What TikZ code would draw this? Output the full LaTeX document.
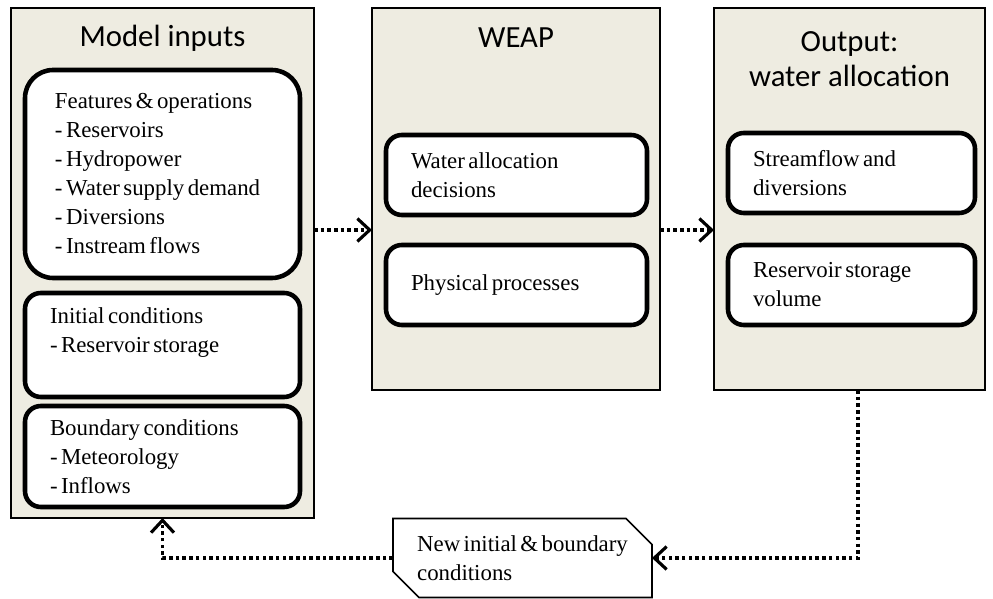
\documentclass[tikz,border=0pt]{standalone}
\usepackage{fontspec}
\setmainfont{Liberation Serif}[WordSpace=0.6]
\newfontfamily\headfont{Carlito}
\usetikzlibrary{arrows.meta, shapes.misc}
\definecolor{panelfill}{HTML}{EEECE1}

\begin{document}
\begin{tikzpicture}[
    every node/.style={font=\fontsize{13}{16.5}\selectfont},
    panel/.style={rectangle, draw=black, fill=panelfill, line width=0.9pt,
                  inner sep=0pt, outer sep=0pt},
    head/.style={font=\headfont\fontsize{17.5}{20}\selectfont, align=center},
    item/.style={rectangle, rounded corners=9pt, draw=black, fill=white,
                 line width=2.6pt, align=flush left, inner xsep=0.5cm, inner ysep=0pt},
    note/.style={chamfered rectangle, chamfered rectangle corners={north east, south west},
                 chamfered rectangle xsep=0.28cm, chamfered rectangle ysep=0.24cm,
                 draw=black, fill=white, line width=0.9pt,
                 align=left, inner xsep=0.2cm, inner ysep=0pt, outer sep=0pt},
    arr/.style={-{Straight Barb[length=7pt, width=13pt, line width=1.8pt]},
                line width=2pt, dash pattern=on 2pt off 1.8pt},
]
\useasboundingbox (0,0) rectangle (19.86,11.98);

% ================================================================ panels
\node[panel, minimum width=6.06cm, minimum height=10.20cm] (inp)  at (3.25, 6.72) {};
\node[panel, minimum width=5.76cm, minimum height=7.64cm]  (weap) at (10.32, 8.00) {};
\node[panel, minimum width=5.42cm, minimum height=7.64cm]  (out)  at (16.99, 8.00) {};

\node[head] (inpt)  at (3.25, 11.22) {Model inputs};
\node[head] (weapt) at (10.32, 11.22) {WEAP};
\node[head] (outt)  at (16.99, 10.79) {Output:\\water allocation};

% ================================================================ model inputs
\node[item, rounded corners=16pt, inner xsep=0.6cm, text width=4.3cm, minimum height=4.16cm]
    (feat) at (3.25, 8.50)
    {Features \& operations\\- Reservoirs\\- Hydropower\\- Water supply demand\\- Diversions\\- Instream flows};
\node[item, text width=4.5cm, minimum height=2.08cm] (init) at (3.25, 5.08)
    {Initial conditions\\- Reservoir storage\\ \mbox{}};
\node[item, text width=4.5cm, minimum height=2.02cm] (bnd) at (3.25, 2.85)
    {Boundary conditions\\- Meteorology\\- Inflows};

% ================================================================ weap
\node[item, text width=4.22cm, minimum height=1.60cm] (wad) at (10.33, 8.48)
    {Water allocation\\decisions};
\node[item, text width=4.22cm, minimum height=1.60cm] (phy) at (10.33, 6.28)
    {Physical processes};
\coordinate (gap) at (10.33, 7.38);

% ================================================================ output
\node[item, text width=3.94cm, minimum height=1.60cm] (sfd) at (17.03, 8.52)
    {Streamflow and\\diversions};
\node[item, text width=3.94cm, minimum height=1.60cm] (rsv) at (17.03, 6.28)
    {Reservoir storage\\volume};

% ================================================================ loop back
\node[note, minimum width=5.18cm, minimum height=1.58cm] (fb) at (10.45, 0.82)
    {New initial \& boundary\\conditions};

\draw[arr] (inp.east |- gap) -- (weap.west |- gap);
\draw[arr] (weap.east |- gap) -- (out.west |- gap);
\draw[arr] ([xshift=0.17cm]out.south) |- (fb.east);
\draw[arr] (fb.west) -| (inp.south);
\end{tikzpicture}
\end{document}
